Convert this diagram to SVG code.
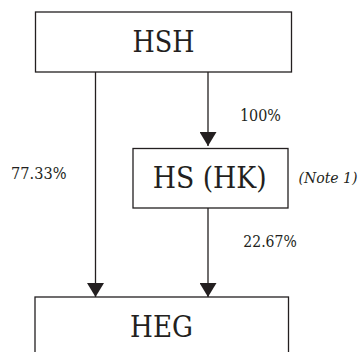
<svg xmlns="http://www.w3.org/2000/svg" width="362" height="352" viewBox="0 0 362 352">
<defs>
<marker id="ah" viewBox="0 0 14 17" refX="14" refY="8.5" markerWidth="14" markerHeight="17" markerUnits="userSpaceOnUse" orient="auto">
<path d="M0,0 L14,8.5 L0,17 Z" fill="#231f20"/>
</marker>
<style>
.box{fill:#fff;stroke:#231f20;stroke-width:1.3}
text{font-family:'DejaVu Serif',serif;fill:#231f20}
.name{font-size:29px}
.pct{font-size:16.5px}
.note{font-size:15px;font-style:italic}
.edge{stroke:#231f20;stroke-width:1.3;fill:none}
</style>
</defs>
<rect width="362" height="352" fill="#fff"/>
<g id="connectors">
<line class="edge" x1="95.5" y1="72" x2="95.5" y2="297" marker-end="url(#ah)"/>
<line class="edge" x1="208" y1="72" x2="208" y2="146" marker-end="url(#ah)"/>
<line class="edge" x1="208" y1="208" x2="208" y2="297" marker-end="url(#ah)"/>
</g>
<g id="HSH">
<rect class="box" x="35.5" y="12" width="256" height="60"/>
<text class="name" x="132.5" y="52" textLength="62" lengthAdjust="spacingAndGlyphs">HSH</text>
</g>
<g id="HSHK">
<rect class="box" x="133" y="148.5" width="155" height="59.5"/>
<text class="name" x="152.7" y="187.5" textLength="114" lengthAdjust="spacingAndGlyphs">HS (HK)</text>
</g>
<g id="HEG">
<rect class="box" x="35" y="297" width="253.5" height="60"/>
<text class="name" x="130" y="337" textLength="63" lengthAdjust="spacingAndGlyphs">HEG</text>
</g>
<g id="labels">
<text class="pct" x="240" y="120.7" textLength="41" lengthAdjust="spacingAndGlyphs">100%</text>
<text class="pct" x="11" y="179" textLength="55.5" lengthAdjust="spacingAndGlyphs">77.33%</text>
<text class="pct" x="243.3" y="247" textLength="53.5" lengthAdjust="spacingAndGlyphs">22.67%</text>
<text class="note" x="298.5" y="183" textLength="59" lengthAdjust="spacingAndGlyphs">(Note 1)</text>
</g>
</svg>
